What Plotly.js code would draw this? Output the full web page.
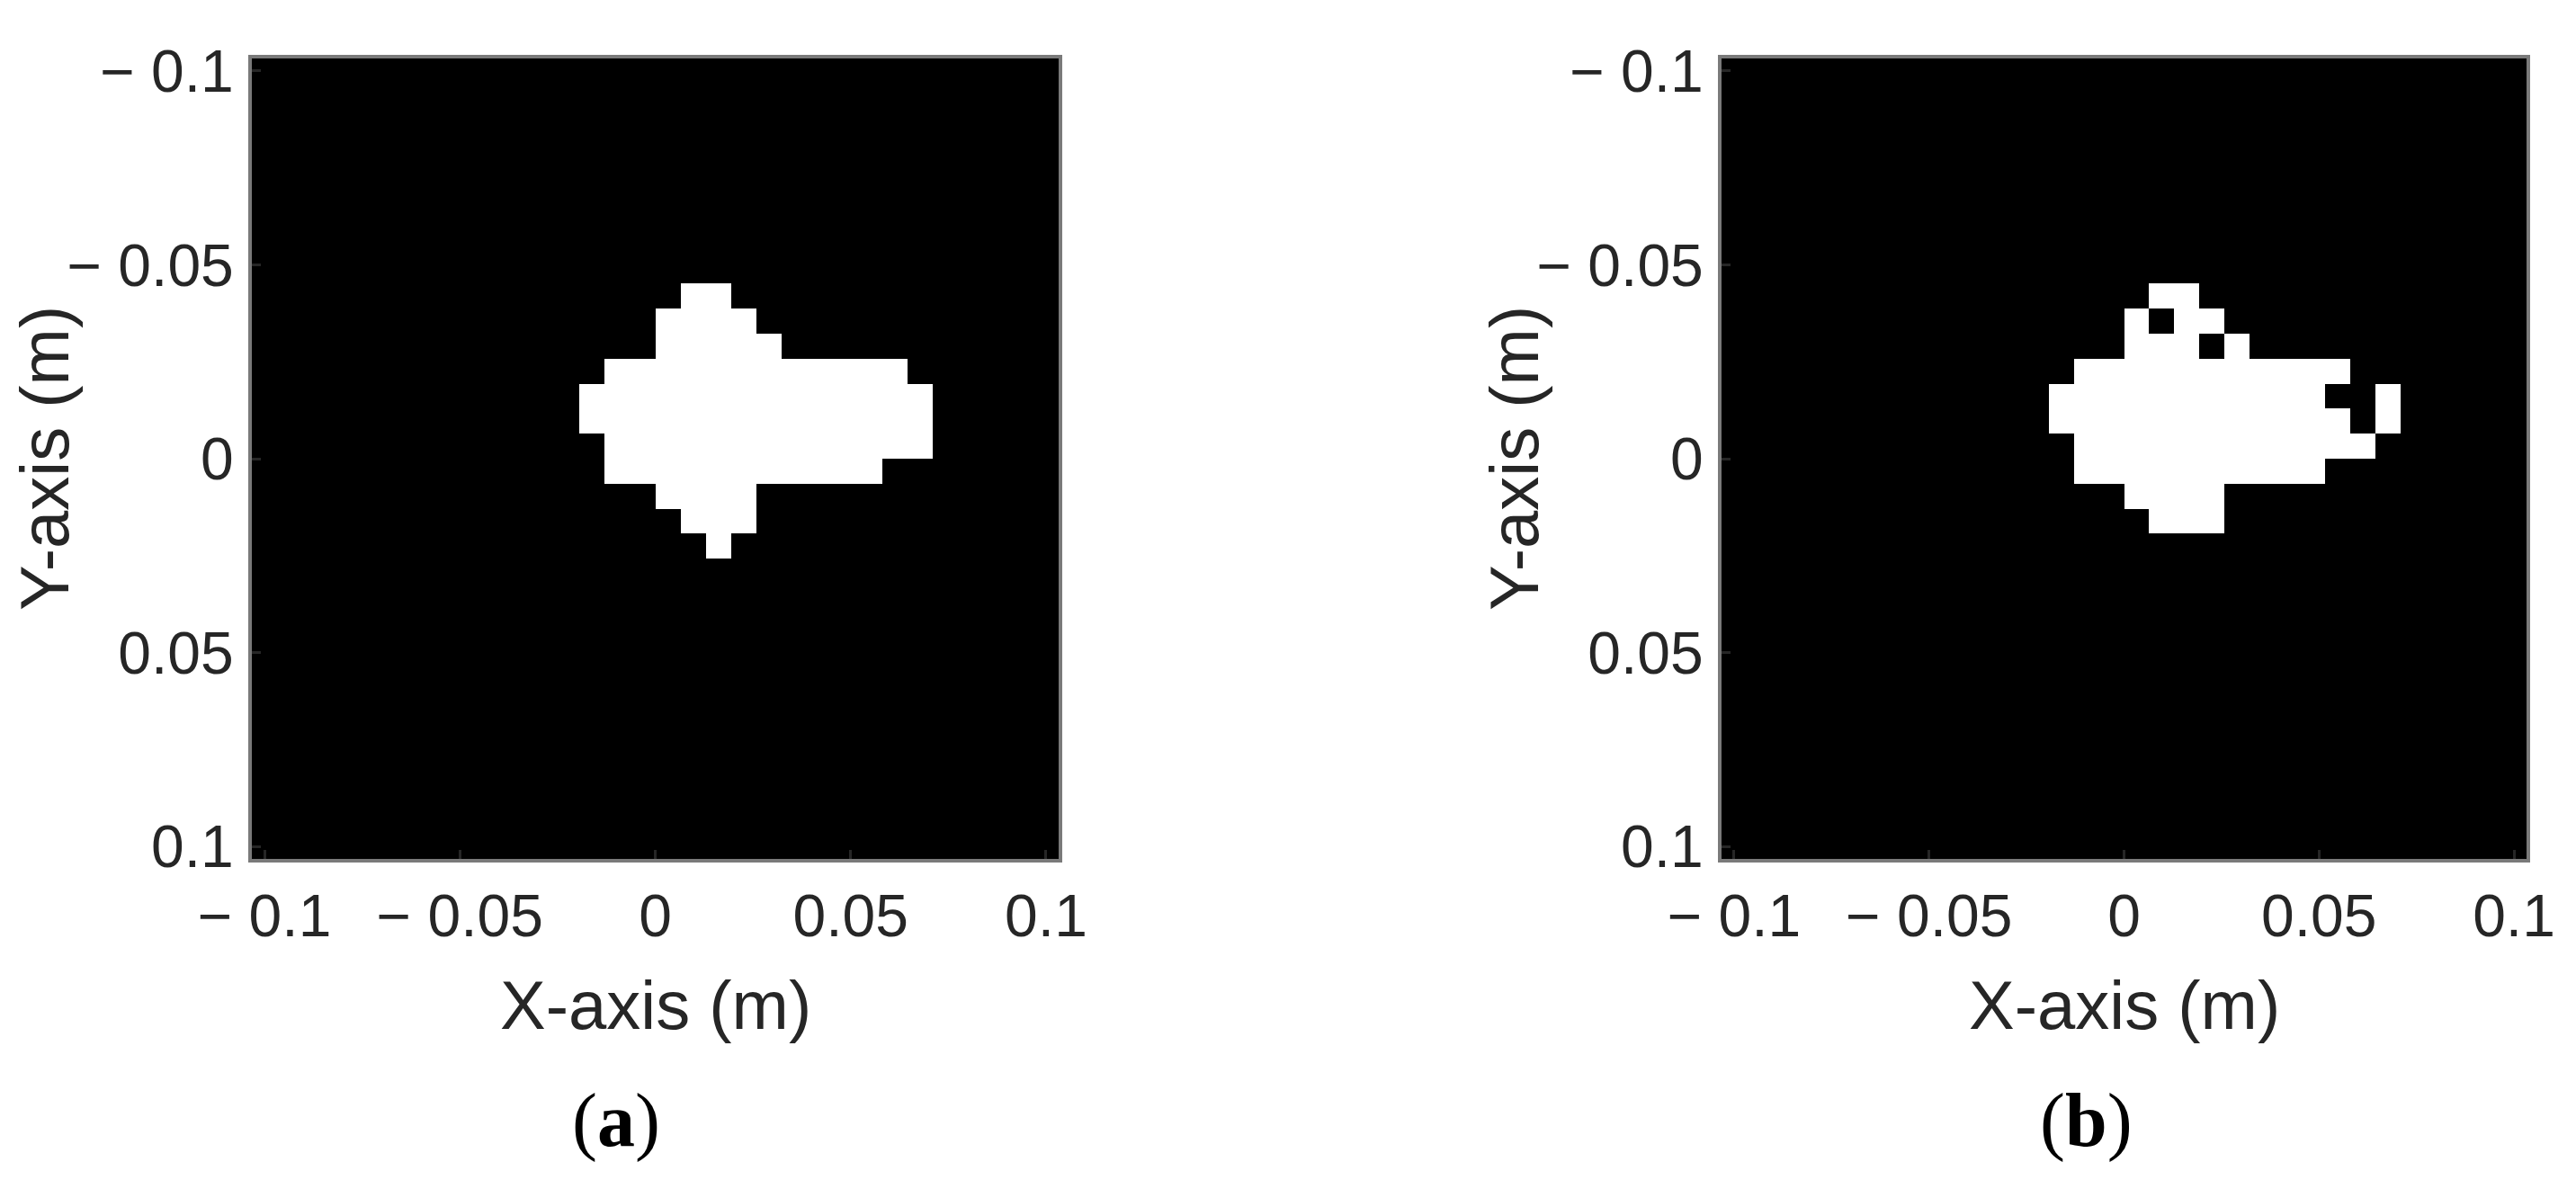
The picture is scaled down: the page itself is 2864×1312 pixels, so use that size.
<!DOCTYPE html>
<html>
<head>
<meta charset="utf-8">
<script src="https://cdn.plot.ly/plotly-3.0.1.min.js"></script>
<style>
  html, body { margin: 0; padding: 0; background: #fff; }
  #chart { width: 2864px; height: 1312px; }
</style>
</head>
<body>
<div id="chart"></div>
<script>
// Image grid: 32 x 32 cells, cell centres run from -0.1 m to 0.1 m on both axes
const GRID_N = 32;
const GRID_MIN = -0.1;
const GRID_MAX = 0.1;

// White cells: [row, firstCol, lastCol], row 0 at the top (y = -0.1)
const whiteRunsA = [
    [9, 17, 18],
    [10, 16, 19],
    [11, 16, 20],
    [12, 14, 25],
    [13, 13, 26],
    [14, 13, 26],
    [15, 14, 26],
    [16, 14, 24],
    [17, 16, 19],
    [18, 17, 19],
    [19, 18, 18]
];

const whiteRunsB = [
    [9, 17, 18],
    [10, 16, 16], [10, 18, 19],
    [11, 16, 18], [11, 20, 20],
    [12, 14, 24],
    [13, 13, 23], [13, 26, 26],
    [14, 13, 24], [14, 26, 26],
    [15, 14, 25],
    [16, 14, 23],
    [17, 16, 19],
    [18, 17, 19]
];

// Axis ticks
const tickValues = [-0.1, -0.05, 0, 0.05, 0.1];
const tickLabels = ['\u2212 0.1', '\u2212 0.05', '0', '0.05', '0.1'];

const xTitle = 'X-axis (m)';
const yTitle = 'Y-axis (m)';
const panelLabels = ['(<b>a</b>)', '(<b>b</b>)'];

function buildMask(runs) {
    const z = [];
    for (let r = 0; r < GRID_N; r++) z.push(new Array(GRID_N).fill(0));
    runs.forEach(([row, c0, c1]) => {
        for (let c = c0; c <= c1; c++) z[row][c] = 1;
    });
    return z;
}

const W = 2864, H = 1312;
const step = (GRID_MAX - GRID_MIN) / (GRID_N - 1);
const lo = GRID_MIN - step / 2;
const hi = GRID_MAX + step / 2;

function heat(z, xa, ya) {
    return {
        type: 'heatmap',
        z: z,
        x0: GRID_MIN, dx: step,
        y0: GRID_MIN, dy: step,
        xaxis: xa, yaxis: ya,
        colorscale: [[0, '#000000'], [1, '#ffffff']],
        zmin: 0, zmax: 1,
        showscale: false,
        hoverinfo: 'x+y'
    };
}

const tickFont = { family: 'Liberation Sans, Arial, sans-serif', size: 66, color: '#262626' };
const titleFont = { family: 'Liberation Sans, Arial, sans-serif', size: 76, color: '#262626' };
const capFont = { family: 'Liberation Serif, Times New Roman, serif', size: 84, color: '#000000' };

function xAxis(domain, anchor) {
    return {
        domain: domain, anchor: anchor,
        range: [lo, hi],
        tickmode: 'array', tickvals: tickValues, ticktext: tickLabels,
        ticks: 'inside', ticklen: 10, tickwidth: 3, tickcolor: '#262626',
        ticklabelstandoff: 3,
        showline: true, linecolor: '#7a7a7a', linewidth: 4, mirror: true,
        showgrid: false, zeroline: false,
        tickfont: tickFont
    };
}

function yAxis(anchor) {
    return {
        domain: [1 - 955 / H, 1 - 65 / H], anchor: anchor,
        range: [hi, lo],
        tickmode: 'array', tickvals: tickValues, ticktext: tickLabels,
        ticks: 'inside', ticklen: 10, tickwidth: 3, tickcolor: '#262626',
        ticklabelstandoff: 3,
        showline: true, linecolor: '#7a7a7a', linewidth: 4, mirror: true,
        showgrid: false, zeroline: false,
        tickfont: tickFont
    };
}

const panels = [
    { left: 280, right: 1177, yTitleX: 50, capX: 685 },
    { left: 1914, right: 2809, yTitleX: 1684, capX: 2319 }
];

const annotations = [];
panels.forEach((p, i) => {
    annotations.push({
        xref: 'paper', yref: 'paper',
        x: (p.left + p.right) / 2 / W, y: 1 - 1117 / H,
        xanchor: 'center', yanchor: 'middle',
        text: xTitle, showarrow: false, font: titleFont
    });
    annotations.push({
        xref: 'paper', yref: 'paper',
        x: p.yTitleX / W, y: 1 - 510 / H,
        xanchor: 'center', yanchor: 'middle', textangle: -90,
        text: yTitle, showarrow: false, font: titleFont
    });
    annotations.push({
        xref: 'paper', yref: 'paper',
        x: p.capX / W, y: 1 - 1246 / H,
        xanchor: 'center', yanchor: 'middle',
        text: panelLabels[i], showarrow: false, font: capFont
    });
});

const layout = {
    width: W, height: H,
    margin: { l: 0, r: 0, t: 0, b: 0 },
    paper_bgcolor: '#ffffff',
    plot_bgcolor: '#000000',
    showlegend: false,
    xaxis: xAxis([panels[0].left / W, panels[0].right / W], 'y'),
    yaxis: yAxis('x'),
    xaxis2: xAxis([panels[1].left / W, panels[1].right / W], 'y2'),
    yaxis2: yAxis('x2'),
    annotations: annotations
};

Plotly.newPlot('chart', [
    heat(buildMask(whiteRunsA), 'x', 'y'),
    heat(buildMask(whiteRunsB), 'x2', 'y2')
], layout, { staticPlot: true });
</script>
</body>
</html>
